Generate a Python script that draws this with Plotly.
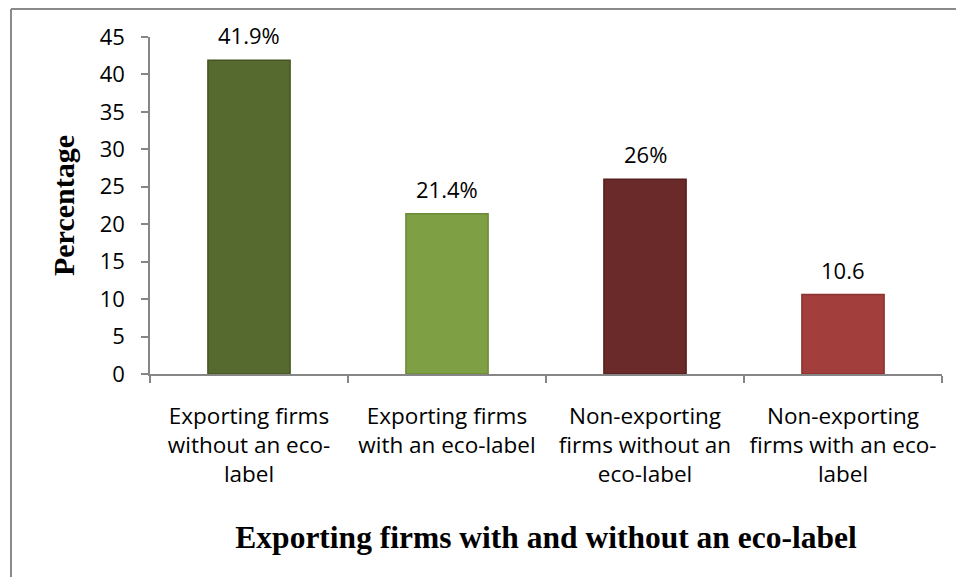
import plotly.graph_objects as go

categories = [
    "Exporting firms<br>without an eco-<br>label",
    "Exporting firms<br>with an eco-label<br> ",
    "Non-exporting<br>firms without an<br>eco-label",
    "Non-exporting<br>firms with an eco-<br>label",
]
values = [41.9, 21.4, 26, 10.6]
value_labels = ["41.9%", "21.4%", "26%", "10.6"]
bar_colors = ["#56692E", "#7F9F45", "#6A2A29", "#A23E3C"]
edge_colors = ["#45551F", "#6B8A35", "#571F1E", "#8C3230"]
y_ticks = [0, 5, 10, 15, 20, 25, 30, 35, 40, 45]

W, H = 956, 577
L, R, T, B = 150, 14, 37, 203
pw, ph = W - L - R, H - T - B
SANS = "Open Sans, sans-serif"
SERIF = "Liberation Serif, Times New Roman, serif"

fig = go.Figure()
fig.add_trace(go.Bar(
    x=categories, y=values,
    marker=dict(color=bar_colors, line=dict(color=edge_colors, width=1.5)),
    cliponaxis=False,
))

for c, v, t in zip(categories, values, value_labels):
    fig.add_annotation(x=c, y=v, text=t, showarrow=False, yanchor="bottom", yshift=8,
                       font=dict(family=SANS, size=22, color="#000"))

def px_x(x):
    return (x - L) / pw

def px_y(y):
    return 1 - (y - T) / ph

fig.update_layout(
    width=W, height=H,
    margin=dict(l=L, r=R, t=T, b=B, autoexpand=False),
    paper_bgcolor="white", plot_bgcolor="white",
    bargap=0.585,
    showlegend=False,
    font=dict(family=SANS, size=22, color="#000"),
    xaxis=dict(
        showline=True, linecolor="#868686", linewidth=1.5,
        ticks="outside", tickson="boundaries", ticklen=7, tickcolor="#868686", tickwidth=1.5,
        tickfont=dict(family=SANS, size=22.5, color="#000"), showgrid=False,
        tickangle=0, automargin=False,
        ticklabelstandoff=21,
        title=dict(text="<b>Exporting firms with and without an eco-label</b>",
                   font=dict(family=SERIF, size=31.5, color="#000"), standoff=38),
    ),
    yaxis=dict(
        range=[0, 45], tickvals=y_ticks,
        showline=True, linecolor="#868686", linewidth=1.5,
        ticks="outside", ticklen=7, tickcolor="#868686", tickwidth=1.5,
        tickfont=dict(family=SANS, size=22, color="#000"), showgrid=False, zeroline=False,
        automargin=False,
        ticklabelstandoff=12,
        title=dict(text="<b>Percentage</b>",
                   font=dict(family=SERIF, size=30, color="#000"), standoff=16),
    ),
    shapes=[
        dict(type="line", xref="paper", yref="paper",
             x0=px_x(11), x1=px_x(11), y0=px_y(9), y1=px_y(H + 5),
             line=dict(color="#8A8A8A", width=2)),
        dict(type="line", xref="paper", yref="paper",
             x0=px_x(11), x1=px_x(W + 5), y0=px_y(9), y1=px_y(9),
             line=dict(color="#8A8A8A", width=2)),
    ],
)

fig.write_html("out.html")
